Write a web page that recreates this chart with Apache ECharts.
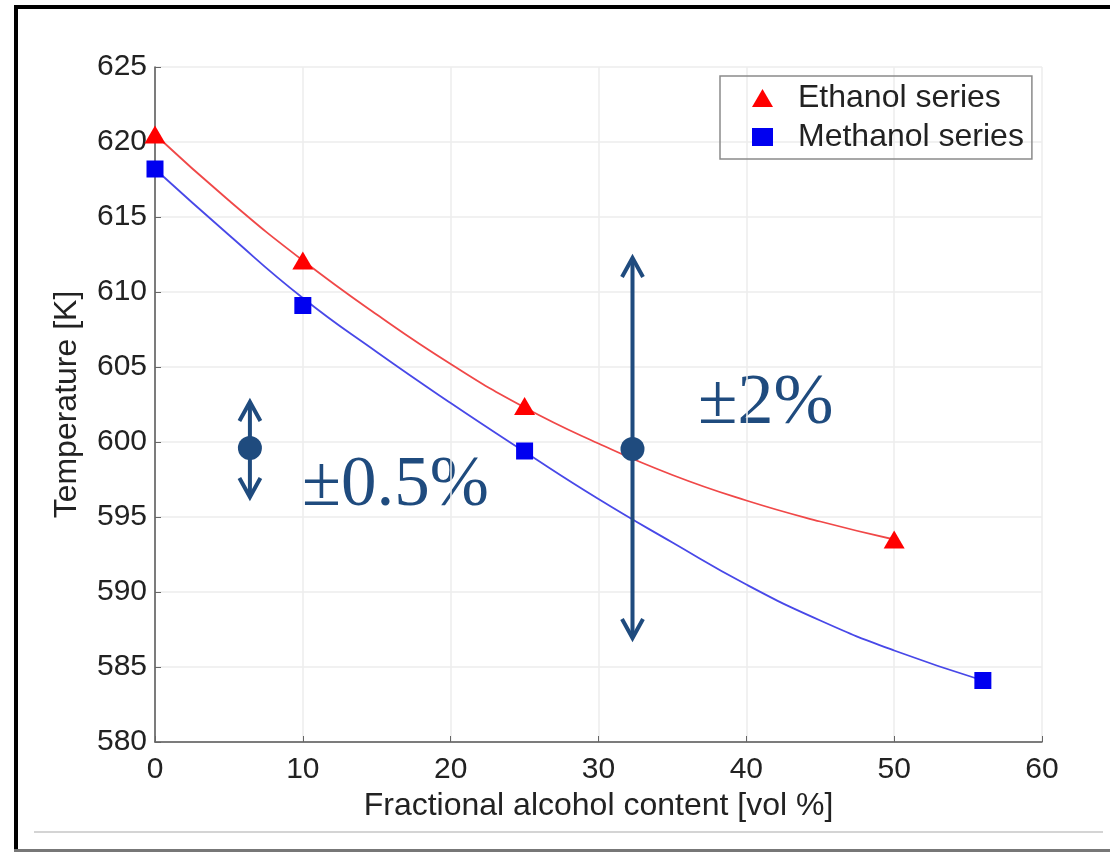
<!DOCTYPE html>
<html>
<head>
<meta charset="utf-8">
<script src="https://cdn.jsdelivr.net/npm/echarts@6/dist/echarts.min.js"></script>
<style>
  html, body { margin: 0; padding: 0; background: #fff; }
  #chart { width: 1110px; height: 852px; }
</style>
</head>
<body>
<div id="chart"></div>
<script>
  // measured points: fraction of alcohol [vol %] and temperature [K]
  var ethanolX = [0, 10, 25, 50]
  var ethanolT = [620.5, 612.1, 602.4, 593.5]
  var methanolX = [0, 10, 25, 56]
  var methanolT = [618.2, 609.1, 599.4, 584.1]

  // fitted curves
  var ethanolFitX = [0, 5, 10, 15, 20, 25, 30, 35, 40, 45, 50]
  var ethanolFitT = [620.5, 616.1, 612.1, 608.5, 605.2, 602.3, 599.9, 597.8, 596.1, 594.7, 593.5]
  var methanolFitX = [0, 5, 10, 15, 20, 25, 30, 35, 40, 45, 50, 56]
  var methanolFitT = [618.2, 613.8, 609.6, 606.0, 602.6, 599.35, 596.2, 593.3, 590.5, 588.1, 586.1, 584.1]

  var xTicks = { min: 0, max: 60, step: 10 }
  var yTicks = { min: 580, max: 625, step: 5 }

  // uncertainty arrows: x, low end, high end, centre dot
  var arrowX = [6.42, 32.3]
  var arrowLow = [596.33, 586.93]
  var arrowHigh = [602.67, 612.27]
  var arrowDot = [599.6, 599.53]
  var arrowLabels = ['\u00b10.5%', '\u00b12%']

  var navy = '#1f4b7e'
  var font = '"Liberation Sans", Arial, sans-serif'
  var serif = '"Liberation Serif", "DejaVu Serif", serif'

  function pairs(xs, ys) {
    return xs.map(function(x, i) { return [x, ys[i]] })
  }

  var arrows = arrowX.map(function(x, i) {
    return [x, arrowLow[i], arrowHigh[i], arrowDot[i]]
  })

  var chart = echarts.init(document.getElementById('chart'))

  var options = {
    backgroundColor: '#fff',
    animation: false,
    grid: {
      left: 155,
      right: 68,
      top: 67,
      bottom: 110
    },
    legend: {
      orient: 'vertical',
      left: 720,
      top: 76,
      padding: [6, 8, 6, 32],
      itemGap: 7,
      itemWidth: 21,
      itemHeight: 18,
      borderColor: '#8a8a8a',
      borderWidth: 1.5,
      textStyle: {
        fontFamily: font,
        fontSize: 32,
        lineHeight: 32,
        color: '#222',
        padding: [0, 0, 0, 20]
      },
      data: [
        { name: 'Ethanol series', icon: 'triangle' },
        { name: 'Methanol series', icon: 'rect' }
      ]
    },
    xAxis: {
      type: 'value',
      min: xTicks.min,
      max: xTicks.max,
      interval: xTicks.step,
      name: 'Fractional alcohol content [vol %]',
      nameLocation: 'middle',
      nameGap: 42,
      nameTextStyle: { fontFamily: font, fontSize: 32, color: '#222' },
      axisLine: { lineStyle: { color: '#555', width: 1.5 } },
      axisTick: { inside: true, length: 6, lineStyle: { color: '#666' } },
      axisLabel: { fontFamily: font, fontSize: 30, color: '#222', margin: 13 },
      splitLine: { show: true, lineStyle: { color: '#ececec', width: 1.5 } }
    },
    yAxis: {
      type: 'value',
      min: yTicks.min,
      max: yTicks.max,
      interval: yTicks.step,
      name: 'Temperature [K]',
      nameLocation: 'middle',
      nameGap: 72,
      nameTextStyle: { fontFamily: font, fontSize: 32, color: '#222' },
      axisLine: { show: true, lineStyle: { color: '#555', width: 1.5 } },
      axisTick: { show: true, inside: true, length: 6, lineStyle: { color: '#666' } },
      axisLabel: { fontFamily: font, fontSize: 30, color: '#222', margin: 8 },
      splitLine: { show: true, lineStyle: { color: '#ececec', width: 1.5 } }
    },
    series: [
      {
        name: 'Ethanol fit',
        type: 'line',
        data: pairs(ethanolFitX, ethanolFitT),
        smooth: true,
        showSymbol: false,
        lineStyle: { color: '#f04848', width: 1.8 },
        z: 2
      },
      {
        name: 'Methanol fit',
        type: 'line',
        data: pairs(methanolFitX, methanolFitT),
        smooth: true,
        showSymbol: false,
        lineStyle: { color: '#4848e8', width: 1.8 },
        z: 2
      },
      {
        name: 'Ethanol series',
        type: 'scatter',
        data: pairs(ethanolX, ethanolT),
        symbol: 'triangle',
        symbolSize: [21, 18],
        itemStyle: { color: '#ff0000', opacity: 1 },
        z: 3
      },
      {
        name: 'Methanol series',
        type: 'scatter',
        data: pairs(methanolX, methanolT),
        symbol: 'rect',
        symbolSize: 17,
        itemStyle: { color: '#0000f0', opacity: 1 },
        z: 3
      },
      {
        // double-headed arrows with a dot in the middle
        type: 'custom',
        data: arrows,
        z: 5,
        silent: true,
        renderItem: function(params, api) {
          var x = api.value(0)
          var lo = api.coord([x, api.value(1)])
          var hi = api.coord([x, api.value(2)])
          var dot = api.coord([x, api.value(3)])
          var w = 10.5
          var h = 19
          var stroke = { stroke: navy, lineWidth: 4, fill: null, lineJoin: 'miter' }
          return {
            type: 'group',
            children: [
              { type: 'line', shape: { x1: hi[0], y1: hi[1] + 2, x2: lo[0], y2: lo[1] - 2 }, style: stroke },
              { type: 'polyline', shape: { points: [[hi[0] - w, hi[1] + h], [hi[0], hi[1]], [hi[0] + w, hi[1] + h]] }, style: stroke },
              { type: 'polyline', shape: { points: [[lo[0] - w, lo[1] - h], [lo[0], lo[1]], [lo[0] + w, lo[1] - h]] }, style: stroke },
              { type: 'circle', shape: { cx: dot[0], cy: dot[1], r: 12 }, style: { fill: navy } }
            ]
          }
        }
      }
    ],
    graphic: [
      // frame of the figure
      { type: 'rect', shape: { x: 14, y: 5, width: 1100, height: 4 }, style: { fill: '#000' } },
      { type: 'rect', shape: { x: 14, y: 5, width: 4, height: 850 }, style: { fill: '#000' } },
      { type: 'rect', shape: { x: 14, y: 849, width: 1100, height: 3 }, style: { fill: '#777' } },
      { type: 'rect', shape: { x: 34, y: 831, width: 1069, height: 2 }, style: { fill: '#d4d4d4' } },
      // percentage labels next to the arrows
      {
        type: 'text', left: 302, top: 451,
        style: { text: arrowLabels[0], font: '71px ' + serif, fill: navy }
      },
      {
        type: 'text', left: 698, top: 368,
        style: { text: arrowLabels[1], font: '72px ' + serif, fill: navy }
      }
    ]
  }

  chart.setOption(options)
</script>
</body>
</html>
